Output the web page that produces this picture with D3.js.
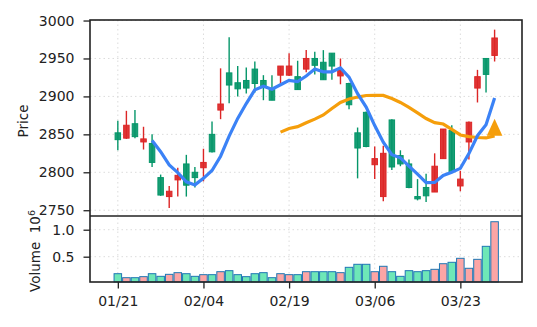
<!DOCTYPE html>
<html>
<head>
<meta charset="utf-8">
<script src="https://cdn.jsdelivr.net/npm/d3@7"></script>
<style>
  body { margin: 0; background: #fff; }
  text { font-family: "DejaVu Sans", sans-serif; fill: #222; }
</style>
</head>
<body>
<div id="wrap"></div>
<script>
//data
var tickIdx = [0, 10, 20, 30, 40];
var tickLabels = ["01/21", "02/04", "02/19", "03/06", "03/23"];
var opens  = [2852,2845,2864,2840,2838,2793,2768,2790,2811,2800,2806,2850,2882,2931,2918,2921,2936,2921,2909,2928,
              2928,2926,2936,2950,2945,2957,2927,2917,2852,2879,2810,2768,2869,2822,2811,2768,2780,2774,2818,2855,
              2782,2840,2911,2950,2954];
var highs  = [2868,2881,2882,2860,2850,2797,2782,2806,2823,2807,2831,2867,2937,2978,2940,2938,2946,2928,2928,2940,
              2957,2947,2961,2959,2961,2957,2950,2918,2859,2880,2834,2835,2870,2829,2817,2791,2798,2825,2857,2862,
              2802,2867,2935,2950,2988];
var lows   = [2829,2844,2845,2830,2807,2769,2753,2768,2768,2780,2788,2826,2870,2891,2900,2904,2905,2895,2895,2914,
              2927,2909,2932,2929,2922,2922,2916,2883,2792,2833,2791,2762,2803,2808,2779,2763,2761,2774,2818,2800,
              2775,2817,2892,2905,2946];
var closes = [2843,2862,2847,2844,2813,2770,2775,2796,2783,2793,2813,2827,2890,2915,2910,2911,2917,2914,2895,2940,
              2940,2909,2950,2941,2922,2940,2935,2889,2832,2834,2818,2825,2807,2811,2780,2765,2769,2808,2857,2801,
              2791,2866,2926,2929,2977];
var volumes = [185000,111000,111000,130000,185000,136000,173000,204000,185000,136000,
               167000,167000,222000,241000,167000,130000,185000,204000,111000,185000,
               167000,167000,222000,222000,222000,222000,204000,303000,359000,359000,
               222000,322000,222000,136000,241000,222000,241000,266000,370000,396000,
               470000,285000,451000,692000,1148000];
var ma5 = [null,null,null,null,2841.8,2827.2,2809.8,2799.6,2787.4,2783.4,2792.0,2802.4,2821.2,2847.6,2871.0,
           2890.6,2908.6,2913.4,2909.4,2915.4,2921.2,2919.6,2926.8,2936.0,2932.4,2932.4,2937.6,2925.4,2903.6,
           2886.0,2861.6,2839.6,2823.2,2819.0,2808.2,2797.6,2786.4,2786.6,2795.8,2800.0,2805.2,2824.6,2848.2,
           2862.6,2897.8];
var ma20 = [null,null,null,null,null,null,null,null,null,null,null,null,null,null,null,null,null,null,null,
            2852.9,2857.75,2860.1,2865.25,2870.1,2875.55,2884.05,2892.05,2896.7,2899.15,2901.2,2901.45,2901.35,
            2897.2,2892.0,2885.5,2878.2,2870.8,2865.5,2863.6,2856.65,2849.2,2847.05,2845.85,2845.25,2848.0];
var priceTicks = [2750, 2800, 2850, 2900, 2950, 3000];
var volTicks = [500000, 1000000];

var width = 537, height = 327;
var left = 90, right = 522, pTop = 20, pBot = 216, vBot = 282;
var upColor = "#dc2626", downColor = "#059669",
    volUp = "#fca5a5", volDown = "#6ee7b7";

var svg = d3.select('#wrap').append('svg')
      .attr('width', width)
      .attr('height', height);

//scales
var x = d3.scaleLinear().domain([-3.25, 47.2]).range([left, right]),
    yP = d3.scaleLinear().domain([2742.4, 3000.7]).range([pBot, pTop]),
    yV = d3.scaleLinear().domain([31000, 1254000]).range([vBot, pBot]);

var step = x(1) - x(0);
var idx = d3.range(closes.length);

//grid
var grid = svg.append('g')
      .style('stroke', '#dcdcdc')
      .style('stroke-width', 1)
      .style('stroke-dasharray', '1.5,3');
grid.selectAll('.hp').data(priceTicks).enter().append('line')
  .attr('x1', left).attr('x2', right)
  .attr('y1', function(d){ return yP(d); }).attr('y2', function(d){ return yP(d); });
grid.selectAll('.hv').data(volTicks).enter().append('line')
  .attr('x1', left).attr('x2', right)
  .attr('y1', function(d){ return yV(d); }).attr('y2', function(d){ return yV(d); });
grid.selectAll('.vx').data(tickIdx).enter().append('line')
  .attr('x1', function(d){ return x(d); }).attr('x2', function(d){ return x(d); })
  .attr('y1', pTop).attr('y2', vBot);

//volume bars
svg.append('g').selectAll('rect')
  .data(idx)
  .enter().append('rect')
    .attr('x', function(i){ return x(i) - step * 0.44; })
    .attr('width', step * 0.88)
    .attr('y', function(i){ return yV(volumes[i]); })
    .attr('height', function(i){ return vBot - yV(volumes[i]); })
    .style('fill', function(i){ return closes[i] >= opens[i] ? volUp : volDown; })
    .style('stroke', '#1f77b4')
    .style('stroke-width', 1);

//candles
var candle = svg.append('g').selectAll('g')
  .data(idx)
  .enter().append('g');
candle.append('line')
  .attr('x1', function(i){ return x(i); }).attr('x2', function(i){ return x(i); })
  .attr('y1', function(i){ return yP(highs[i]); })
  .attr('y2', function(i){ return yP(lows[i]); })
  .style('stroke', function(i){ return closes[i] >= opens[i] ? upColor : downColor; })
  .style('stroke-width', 1.4);
candle.append('rect')
  .attr('x', function(i){ return x(i) - step * 0.32; })
  .attr('width', step * 0.64)
  .attr('y', function(i){ return yP(Math.max(opens[i], closes[i])); })
  .attr('height', function(i){ return Math.max(1, Math.abs(yP(opens[i]) - yP(closes[i]))); })
  .style('fill', function(i){ return closes[i] >= opens[i] ? upColor : downColor; })
  .style('fill-opacity', 0.92)
  .style('stroke', function(i){ return closes[i] >= opens[i] ? upColor : downColor; })
  .style('stroke-width', 1);

//moving averages
var line = function(arr){
  return d3.line()
    .defined(function(i){ return arr[i] != null; })
    .x(function(i){ return x(i); })
    .y(function(i){ return yP(arr[i]); });
};
svg.append('path')
  .attr('d', line(ma20)(idx))
  .style('fill', 'none')
  .style('stroke', '#f59e0b')
  .style('stroke-width', 3.2);
svg.append('path')
  .attr('d', line(ma5)(idx))
  .style('fill', 'none')
  .style('stroke', '#3b82f6')
  .style('stroke-width', 3.2);

//last point marker
var last = idx.length - 1,
    lx = x(last), ly = yP(ma20[last]);
svg.append('path')
  .attr('d', 'M' + lx + ',' + (ly - 17) + 'L' + (lx + 7.8) + ',' + ly + 'L' + (lx - 7.8) + ',' + ly + 'Z')
  .style('fill', '#f59e0b');

//axes
var yAxisP = svg.append('g')
      .attr('transform', 'translate(' + left + ',0)')
      .call(d3.axisLeft(yP).tickValues(priceTicks).tickSize(6.5).tickPadding(9)
        .tickFormat(d3.format('d')));
var yAxisV = svg.append('g')
      .attr('transform', 'translate(' + left + ',0)')
      .call(d3.axisLeft(yV).tickValues(volTicks).tickSize(6.5).tickPadding(9)
        .tickFormat(function(d){ return (d / 1e6).toFixed(1); }));
var xAxis = svg.append('g')
      .attr('transform', 'translate(0,' + vBot + ')')
      .call(d3.axisBottom(x).tickValues(tickIdx).tickSize(6.5).tickPadding(8)
        .tickFormat(function(d, i){ return tickLabels[i]; }));
[yAxisP, yAxisV, xAxis].forEach(function(a){
  a.select('.domain').remove();
  a.selectAll('line').style('stroke', '#222').style('stroke-width', 1.3);
  a.selectAll('text').style('font-size', '14px').style('font-family', '"DejaVu Sans", sans-serif').style('fill', '#222');
});

//frames
svg.append('rect')
  .attr('x', left).attr('y', pTop)
  .attr('width', right - left).attr('height', vBot - pTop)
  .style('fill', 'none').style('stroke', '#222').style('stroke-width', 1.6);
svg.append('line')
  .attr('x1', left).attr('x2', right)
  .attr('y1', pBot).attr('y2', pBot)
  .style('stroke', '#222').style('stroke-width', 1.6);

//labels
svg.append('text')
  .attr('transform', 'translate(28,121) rotate(-90)')
  .attr('text-anchor', 'middle')
  .style('font-size', '13.5px')
  .text('Price');
var vl = svg.append('text')
  .attr('transform', 'translate(40,251) rotate(-90)')
  .attr('text-anchor', 'middle')
  .style('font-size', '13.5px');
vl.append('tspan').text('Volume\u00a0\u00a010');
vl.append('tspan').attr('dy', '-0.5em').style('font-size', '9.5px').text('6');
</script>
</body>
</html>
